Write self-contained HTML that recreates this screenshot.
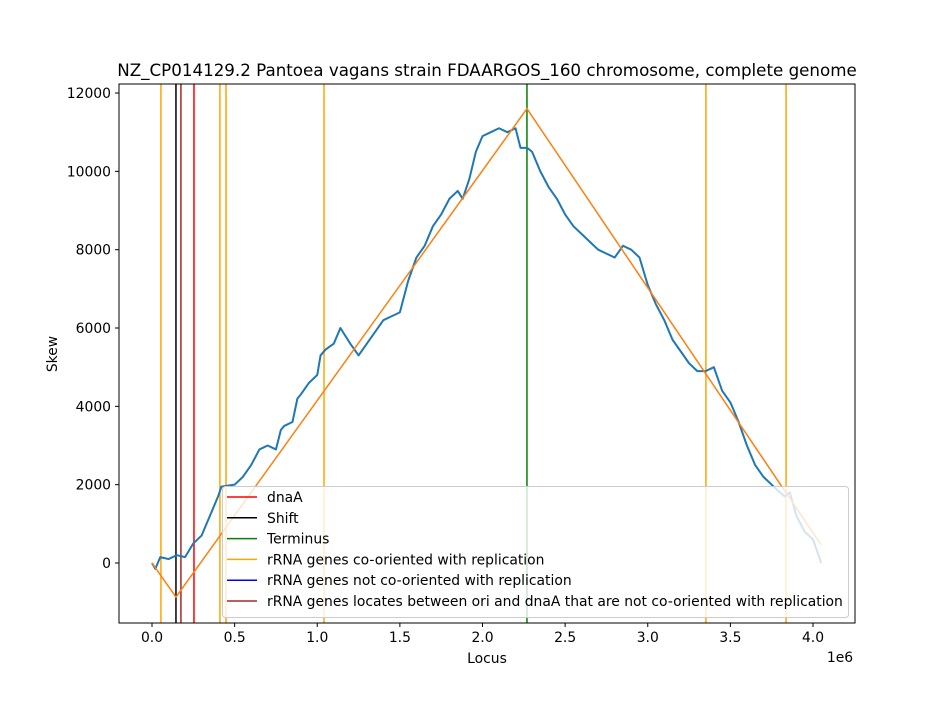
<!DOCTYPE html>
<html><head><meta charset="utf-8"><style>
body{margin:0;background:#fff}
svg text{font-family:"DejaVu Sans","Liberation Sans",sans-serif;fill:#000}
</style></head><body>
<svg id="c" width="950" height="700" viewBox="0 0 950 700"></svg>
<script>
const blueX=[0,0.02,0.05,0.1,0.15,0.2,0.25,0.3,0.35,0.4,0.42,0.5,0.55,0.6,0.65,0.7,0.75,0.78,0.8,0.85,0.88,0.9,0.95,1.0,1.02,1.05,1.1,1.14,1.2,1.25,1.3,1.35,1.4,1.45,1.5,1.55,1.6,1.65,1.7,1.75,1.8,1.85,1.88,1.92,1.96,2.0,2.05,2.1,2.15,2.2,2.23,2.27,2.3,2.35,2.4,2.45,2.5,2.55,2.6,2.65,2.7,2.75,2.8,2.85,2.9,2.95,3.0,3.05,3.1,3.15,3.2,3.25,3.3,3.35,3.4,3.45,3.5,3.55,3.6,3.65,3.7,3.75,3.8,3.83,3.86,3.9,3.95,4.0,4.05];
const blueY=[0,-150,150,100,200,150,500,700,1200,1700,1950,2000,2200,2500,2900,3000,2900,3400,3500,3600,4200,4300,4600,4800,5300,5450,5600,6000,5600,5300,5600,5900,6200,6300,6400,7200,7800,8100,8600,8900,9300,9500,9300,9800,10500,10900,11000,11100,11000,11100,10600,10600,10500,10000,9600,9300,8900,8600,8400,8200,8000,7900,7800,8100,8000,7800,7100,6600,6200,5700,5400,5100,4900,4900,5000,4400,4100,3600,3000,2500,2200,2000,1800,1700,1800,1200,800,600,0];
const fitX=[0,0.145,2.269,4.05];
const fitY=[0,-870,11600,460];
const dnaA=[0.254], shift=[0.145], terminus=[2.269];
const rrnaCo=[0.054,0.411,0.448,1.041,3.352,3.837];
const rrnaBetween=[0.175];
const xTicks=[0,0.5,1.0,1.5,2.0,2.5,3.0,3.5,4.0];
const yTicks=[0,2000,4000,6000,8000,10000,12000];
const legendLabels=["dnaA","Shift","Terminus","rRNA genes co-oriented with replication","rRNA genes not co-oriented with replication","rRNA genes locates between ori and dnaA that are not co-oriented with replication"];
const legendColors=["red","black","green","orange","blue","brown"];

const L=119,R=855,T=84,B=623;
const xs=v=>152+v*165.25;
const ys=v=>563-v*0.039165;
const svg=document.getElementById('c');
const NS='http://www.w3.org/2000/svg';
function mk(t,a,p){const e=document.createElementNS(NS,t);for(const k in a)e.setAttribute(k,a[k]);(p||svg).appendChild(e);return e;}
const clip=mk('clipPath',{id:'pc'});mk('rect',{x:L,y:T,width:R-L,height:B-T},clip);
const g=mk('g',{'clip-path':'url(#pc)'});
let e;
function vl(arr,col,name){arr.forEach(v=>{e=mk('line',{x1:xs(v),x2:xs(v),y1:T,y2:B,stroke:col,'stroke-width':1.5},g);

});}
vl(dnaA,'red','dnaa-line');vl(shift,'black','shift-line');vl(terminus,'green','terminus-line');
vl(rrnaCo,'orange','rrna-co-oriented-line');vl(rrnaBetween,'brown','rrna-between-line');
e=mk('polyline',{points:blueX.map((x,i)=>xs(x)+','+ys(blueY[i])).join(' '),fill:'none',stroke:'#1f77b4','stroke-width':2,'stroke-linejoin':'round'},g);


e=mk('polyline',{points:fitX.map((x,i)=>xs(x)+','+ys(fitY[i])).join(' '),fill:'none',stroke:'#ff7f0e','stroke-width':1.5},g);


e=mk('rect',{x:L,y:T,width:R-L,height:B-T,fill:'none',stroke:'#000','stroke-width':1});


xTicks.forEach(v=>{mk('line',{x1:xs(v),x2:xs(v),y1:B,y2:B+4,stroke:'#000'});
e=mk('text',{x:xs(v),y:B+19,'text-anchor':'middle','font-size':13.9});e.textContent=v.toFixed(1);

});
yTicks.forEach(v=>{mk('line',{x1:L-4,x2:L,y1:ys(v),y2:ys(v),stroke:'#000'});
e=mk('text',{x:L-8,y:ys(v)+5,'text-anchor':'end','font-size':13.9});e.textContent=v;

});
e=mk('text',{x:840,y:662,'font-size':13.9,'text-anchor':'middle'});e.textContent='1e6';


e=mk('text',{x:487,y:663,'font-size':13.9,'text-anchor':'middle'});e.textContent='Locus';


e=mk('text',{x:57,y:354,'font-size':13.9,'text-anchor':'middle',transform:'rotate(-90 57 354)'});e.textContent='Skew';


e=mk('text',{x:487,y:76,'font-size':16.7,'text-anchor':'middle'});e.textContent='NZ_CP014129.2 Pantoea vagans strain FDAARGOS_160 chromosome, complete genome';


const lg=mk('g',{});


mk('rect',{x:222.5,y:486.5,width:626,height:131,rx:3,fill:'rgba(255,255,255,0.8)',stroke:'#ccc'},lg);
legendLabels.forEach((t,i)=>{const y=497+i*20.8;
mk('line',{x1:227,x2:257,y1:y,y2:y,stroke:legendColors[i],'stroke-width':1.5},lg);
e=mk('text',{x:267,y:y+5,'font-size':13.9},lg);e.textContent=t;

});
</script>
</body></html>
